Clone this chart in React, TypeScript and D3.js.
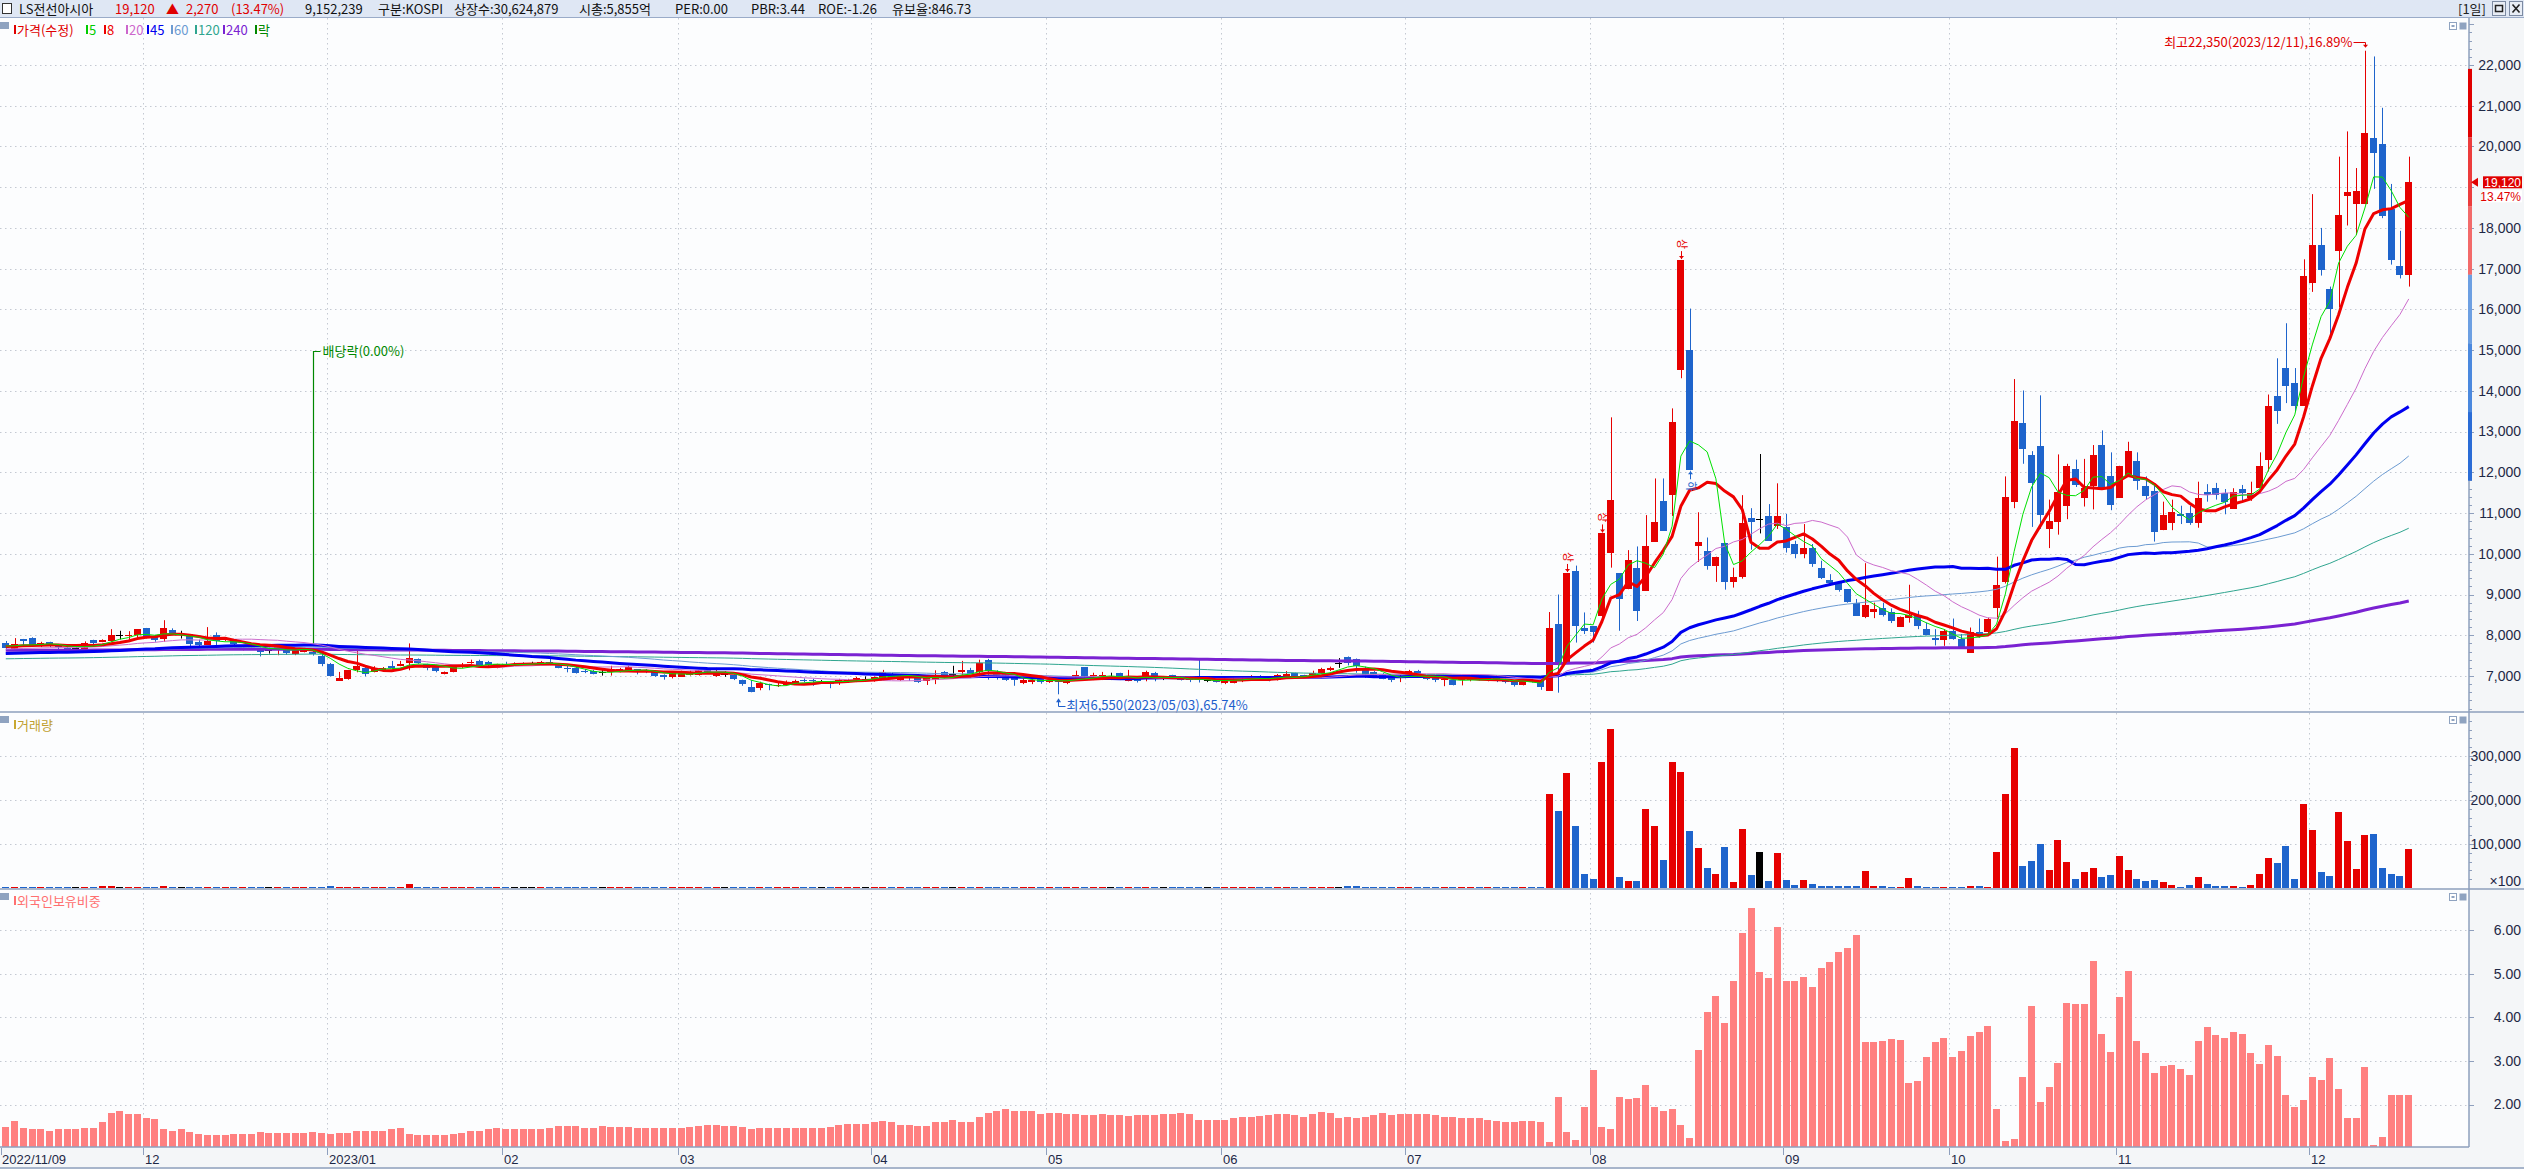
import React, { useRef, useEffect } from 'react';
import * as d3 from 'd3';

// trading calendar (KRX)
const START_DATE = '2022-11-09';
const END_DATE = '2023-12-18';
const HOLIDAYS = [
  '2022-12-30', '2023-01-23', '2023-01-24', '2023-03-01', '2023-05-01', '2023-05-05',
  '2023-05-29', '2023-06-06', '2023-08-15', '2023-09-28', '2023-09-29', '2023-10-02',
  '2023-10-03', '2023-10-09',
];

const OPEN = [
  7810,7640,7910,7930,7740,7840,7760,7690,7680,7660, 7890,7830,7850,8000,7970,8000,8180,7950,7900,8120,
  8030,8030,7840,7770,8000,7880,7900,7670,7760,7670, 7630,7630,7630,7530,7590,7590,7500,7300,6880,6930,
  7140,7190,7110,7120,7250,7240,7330,7420,7290,7240, 7040,7090,7220,7320,7380,7350,7200,7300,7300,7300,
  7320,7290,7350,7270,7200,7200,7130,7120,7090,7090, 7120,7150,7170,7130,7120,7030,6980,6980,7020,7020,
  7150,6990,7060,7020,6890,6730,6700,6810,6750,6780, 6800,6910,6910,6860,6860,6830,6860,6890,6930,6890,
  6960,7060,6910,7020,6990,6880,6890,7110,7060,7090, 7150,7090,7400,7110,7060,6960,6830,6860,6940,6850,
  6940,6820,6900,7210,6900,6920,6980,7070,6870,6980, 6970,7070,6970,7020,6970,6930,6930,6900,6930,6820,
  6840,6870,6900,6980,6980,6900,7000,7070,7020,6980, 7070,7150,7310,7460,7410,7150,7100,7050,6980,6970,
  7020,7130,7020,7000,6890,6900,6900,6890,6950,6890, 6950,6920,6890,6790,6900,6870,6640,8280,7330,9580,
  8190,8230,8480,10030,9520,9130,9660,9090,10300,11290, 11440,14500,15010,10200,10070,9710,10270,9300,9430,10890,
  10860,10930,10690,10650,10240,9990,10140,9660,9350,9300, 9130,8800,8450,8570,8660,8580,8210,8420,8480,8160,
  7930,7890,8110,7920,7570,8070,8070,8660,9300,11280, 13220,12430,12650,10610,10780,11180,12080,11380,11660,12670,
  11900,11380,11920,12290,11660,11540,10580,10760,10970,11000, 10760,11520,11610,11490,11100,11590,11380,11610,12310,13880,
  14560,14190,13630,16660,17570,16490,17440,18780,18580,18580, 20220,20070,18470,17070,16850,
];
const HIGH = [
  7860,7930,7910,7950,7840,7840,7770,7740,7780,7850, 7890,7900,8150,8110,8100,8150,8180,8010,8370,8170,
  8110,8030,7890,8200,8070,7940,7900,7760,7790,7760, 7700,7760,7680,7680,7690,7630,7550,7320,7100,7150,
  7610,7250,7240,7220,7370,7370,7800,7430,7300,7250, 7110,7270,7320,7400,7400,7370,7300,7350,7330,7330,
  7350,7370,7420,7270,7250,7240,7170,7150,7150,7250, 7200,7250,7170,7170,7140,7040,7110,7130,7130,7140,
  7190,7200,7120,7040,6910,6900,6860,6810,6860,6890, 6910,6940,6930,6900,6880,6930,6930,6980,6990,6990,
  7150,7090,7020,7040,7010,6960,7140,7120,7250,7370, 7200,7400,7420,7140,7070,6990,6940,6930,6960,6930,
  6960,6900,7130,7210,7080,7100,7080,7080,7150,7000, 7130,7100,7000,7030,6970,6970,7410,6930,6970,6930,
  6950,6970,7020,7020,7000,7050,7120,7080,7030,7130, 7200,7230,7440,7480,7430,7230,7120,7070,7000,7030,
  7150,7150,7030,7020,6930,6920,6970,6980,7000,6980, 6980,6930,6900,6920,6930,6890,8570,9000,9530,9710,
  8560,8230,10500,13350,9520,10090,10180,10950,11850,11850, 13570,17210,16020,11020,10400,9930,10270,9660,11440,11120,
  12450,11220,11730,10980,10320,10730,10240,9830,9500,9300, 9130,8890,9770,8800,8800,8660,8460,9240,8600,8310,
  8150,8150,8410,8030,8190,8410,8430,9930,11900,14290, 14010,12520,13890,11330,12440,12210,12310,12330,12670,13030,
  12490,12160,12750,12490,11900,11710,11280,11330,11180,11180, 11770,11710,11740,11590,11610,11690,11770,12490,13910,14800,
  15660,14560,17230,18830,18000,16560,19750,20370,19470,22350, 22210,20950,19080,17930,19750,
];
const LOW = [
  7660,7640,7760,7760,7710,7710,7610,7630,7600,7630, 7740,7830,7840,7900,7890,7920,7920,7840,7840,8000,
  7920,7720,7680,7770,7760,7860,7710,7630,7640,7480, 7550,7510,7520,7510,7580,7500,7240,6990,6880,6910,
  7090,6990,7090,7110,7190,7240,7140,7300,7140,7090, 7040,7090,7200,7300,7240,7240,7190,7240,7270,7270,
  7290,7270,7300,7190,7090,7060,7070,7040,7010,7010, 7090,7140,7040,7070,6980,6910,6940,6980,7010,7010,
  7090,6980,6980,6900,6760,6600,6650,6650,6730,6760, 6780,6850,6760,6830,6700,6780,6830,6850,6880,6860,
  6940,6960,6880,6880,6830,6780,6800,6940,6940,7030, 7060,7060,6910,6910,6880,6760,6800,6800,6810,6830,
  6550,6800,6900,6930,6900,6900,6900,6900,6870,6840, 6870,6870,6900,6930,6890,6850,6840,6850,6840,6800,
  6820,6850,6900,6900,6870,6890,6980,6950,6950,6970, 7050,7120,7200,7260,7080,6950,6980,6920,6850,6850,
  7000,7000,6900,6850,6750,6770,6770,6870,6890,6870, 6850,6820,6740,6770,6840,6660,6640,6590,7300,7820,
  8030,7820,8400,9660,8110,9130,8350,9090,10300,10570, 10930,14310,12050,9800,9610,9310,9120,9170,9390,10100,
  10500,10320,10610,10030,9890,9890,9680,9380,9210,9070, 8800,8480,8420,8420,8460,8300,8210,8310,8150,8000,
  7750,7740,7890,7700,7570,7940,8030,8390,9270,11120, 12210,10660,10610,10140,10470,10850,11640,11160,11090,11590,
  11070,11380,11920,11570,11330,10300,10580,10580,10730,10710, 10640,11280,11330,10970,11100,11300,11300,11610,12020,13190,
  13700,13500,13630,16430,16830,15250,16050,18060,17830,18580, 18960,18240,17100,16760,16560,
];
const CLOSE = [
  7680,7780,7850,7760,7800,7760,7710,7660,7680,7800, 7820,7890,8000,8000,8010,8150,7950,7890,8170,8010,
  8030,7790,7770,7850,7870,7920,7790,7680,7680,7600, 7630,7740,7560,7660,7680,7550,7290,6990,6960,7150,
  7250,7060,7200,7200,7200,7300,7450,7320,7190,7120, 7110,7250,7270,7350,7270,7270,7290,7250,7300,7300,
  7320,7350,7320,7190,7170,7070,7100,7040,7090,7150, 7170,7210,7090,7110,7010,6970,7090,7070,7070,7140,
  7110,7090,7060,6930,6800,6600,6830,6780,6780,6830, 6880,6880,6880,6860,6810,6890,6890,6960,6930,6980,
  7110,6980,7010,6980,6860,6940,7020,6940,7060,7150, 7060,7320,7120,6960,6910,6890,6890,6910,6850,6910,
  6850,6890,7020,6970,7020,7020,6980,6920,6970,6870, 7100,6930,6970,6930,6900,6900,6900,6900,6850,6900,
  6930,6950,7000,6900,6890,7030,7050,6970,6970,7080, 7180,7200,7310,7330,7250,7020,7000,6930,6900,7000,
  7120,7020,6920,6900,6930,6790,6930,6950,6920,6970, 6870,6850,6790,6900,6850,6740,8180,7330,9530,8230,
  8110,8080,10500,11320,8890,9840,8600,10190,10780,10570, 13240,17210,12050,10300,9710,9930,9300,9440,10750,10790,
  10860,10320,10930,10130,9990,10140,9750,9400,9280,9120, 8820,8480,8740,8640,8490,8340,8460,8500,8230,8000,
  7890,8110,7920,7700,8070,7980,8390,9230,11400,13270, 12570,11740,10950,10810,11520,12160,11690,11610,12430,11590,
  11210,12160,12520,11790,11430,10540,10950,11020,10920,10760, 11380,11450,11450,11280,11520,11490,11490,12160,13630,13500,
  14130,13630,16810,17570,16970,16020,18320,18880,18910,20320, 19840,18290,17210,16850,19120,
];
const VOLUME = [
  2100,1800,1500,2400,1200,1300,1100,900,1000,1600, 1400,5200,3800,1500,1200,2600,2900,1800,4600,2100,
  1300,2200,1600,2800,1900,900,1500,1000,1200,1700, 900,1400,1100,1300,1000,1600,3100,3600,1800,1900,
  2600,1500,1000,900,1200,1300,9800,2300,1600,1400, 1100,1700,1000,1200,1400,1000,900,800,700,700,
  800,1000,1100,1500,1200,1600,900,1100,800,1500, 1000,1200,1300,900,1600,1400,1300,1100,1000,1200,
  900,1300,800,1400,2100,2800,1700,1100,900,1000, 1100,800,1000,700,1100,1000,900,1200,700,1000,
  1900,1300,1100,1000,1300,1000,1500,1700,1400,1800, 1400,2600,3400,1900,1500,1400,1100,1000,1000,1000,
  1900,1100,1300,2000,1200,1100,900,1100,1500,1000, 1200,1300,800,900,800,2300,800,900,800,900,
  800,900,1000,800,900,1200,1000,900,800,1300, 1500,1100,3200,4100,3800,2200,1400,1300,1200,1100,
  1300,1200,1100,1300,1200,1000,1300,900,900,800, 900,800,1000,900,1200,1500,212900,176000,261000,140000,
  32000,20600,286000,362000,25000,16000,16000,178500,140000,64000, 286000,263000,130000,91600,45800,32000,94000,13700,135000,29800,
  82400,16000,80000,18300,6900,18300,9200,4600,4600,4600, 4600,4600,38900,4600,4600,2300,2300,22900,4600,2300,
  2300,1500,2300,1500,4600,4600,2300,82400,212900,318000, 50400,61800,100700,41200,110000,59500,20600,36600,45800,25000,
  29800,73000,41200,20600,16000,18300,13700,6900,2300,6900, 25000,9200,4600,4600,4600,2300,6900,32000,68700,57200,
  96000,20600,192000,132800,36600,27500,171700,107600,43500,121300, 123600,45800,32000,27500,89300,
];
const FOREIGN = [
  1.49,1.63,1.46,1.43,1.43,1.40,1.43,1.43,1.43,1.46, 1.46,1.60,1.81,1.85,1.79,1.79,1.68,1.66,1.44,1.40,
  1.43,1.37,1.32,1.29,1.30,1.30,1.33,1.33,1.33,1.37, 1.35,1.35,1.35,1.35,1.35,1.37,1.35,1.33,1.35,1.35,
  1.40,1.40,1.40,1.40,1.43,1.46,1.33,1.30,1.30,1.30, 1.30,1.33,1.35,1.38,1.40,1.43,1.45,1.43,1.44,1.44,
  1.44,1.44,1.47,1.50,1.51,1.50,1.47,1.47,1.50,1.49, 1.49,1.49,1.46,1.46,1.46,1.46,1.46,1.46,1.49,1.51,
  1.53,1.53,1.51,1.51,1.49,1.43,1.46,1.46,1.46,1.46, 1.46,1.46,1.46,1.46,1.49,1.53,1.56,1.56,1.56,1.59,
  1.63,1.59,1.53,1.53,1.51,1.51,1.60,1.60,1.65,1.59, 1.60,1.72,1.81,1.85,1.90,1.85,1.85,1.85,1.79,1.81,
  1.81,1.79,1.79,1.76,1.76,1.79,1.76,1.76,1.74,1.76, 1.76,1.76,1.79,1.79,1.81,1.79,1.65,1.65,1.65,1.65,
  1.69,1.72,1.72,1.74,1.76,1.79,1.79,1.76,1.72,1.79, 1.83,1.81,1.69,1.72,1.69,1.72,1.76,1.81,1.76,1.79,
  1.79,1.79,1.79,1.76,1.72,1.72,1.69,1.69,1.69,1.65, 1.63,1.60,1.60,1.63,1.63,1.60,1.14,2.18,1.37,1.19,
  1.95,2.80,1.49,1.44,2.18,2.13,2.15,2.45,1.95,1.85, 1.90,1.53,1.24,3.25,4.13,4.49,3.87,4.84,5.95,6.51,
  5.04,4.91,6.08,4.84,4.84,4.93,4.70,5.14,5.27,5.50, 5.59,5.89,3.44,3.44,3.46,3.51,3.48,2.50,2.54,3.09,
  3.44,3.53,3.09,3.23,3.58,3.67,3.80,1.90,1.17,1.21, 2.63,4.26,2.06,2.41,2.96,4.33,4.31,4.31,5.30,3.62,
  3.21,4.47,5.07,3.46,3.19,2.73,2.89,2.91,2.82,2.68, 3.46,3.78,3.60,3.53,3.67,3.62,3.19,2.93,3.37,3.12,
  2.22,1.95,2.11,2.63,2.57,3.07,2.36,1.69,1.69,2.86, 1.07,1.26,2.22,2.22,2.22,
];

// moving averages: period, level before the first bar, colour, width
const MA_PERIODS = [240, 120, 60, 45, 20, 8, 5];
const MA_SEEDS = [7630, 7420, 7560, 7550, 7660, 7730, 7750];
const MA_COLORS = ['#7a22d2', '#2fa58f', '#6c9bd2', '#0000f0', '#cc6ccc', '#ee0000', '#00e000'];
const MA_WIDTHS = [3, 1, 1, 3, 1, 3, 1];

const FIRST_LABEL = '2022/11/09';
const MONTH_LABELS = ['12', '2023/01', '02', '03', '04', '05', '06', '07', '08', '09', '10', '11', '12'];
const PRICE_TICKS = d3.range(7000, 22001, 1000);
const VOLUME_TICKS = [100000, 200000, 300000];
const FOREIGN_TICKS = [2, 3, 4, 5, 6];

const UPPER_LIMIT_DAYS = ['2023-07-27', '2023-08-02', '2023-08-16'];
const LOWER_LIMIT_DAYS = ['2023-08-17'];
const EX_DIV_DAY = '2022-12-28';
const LOW_DAY = '2023-05-03';
const HIGH_DAY = '2023-12-11';

const HEADER = [
  { text: 'LS전선아시아', color: '#111', x: 19 },
  { text: '19,120', color: '#e00000', x: 115 },
  { text: '▲', color: '#e00000', x: 166 },
  { text: '2,270', color: '#e00000', x: 186 },
  { text: '(13.47%)', color: '#e00000', x: 231 },
  { text: '9,152,239', color: '#111', x: 305 },
  { text: '구분:KOSPI', color: '#111', x: 378 },
  { text: '상장수:30,624,879', color: '#111', x: 454 },
  { text: '시총:5,855억', color: '#111', x: 579 },
  { text: 'PER:0.00', color: '#111', x: 675 },
  { text: 'PBR:3.44', color: '#111', x: 751 },
  { text: 'ROE:-1.26', color: '#111', x: 818 },
  { text: '유보율:846.73', color: '#111', x: 892 },
];
const LEGEND = [
  { text: '가격(수정)', color: '#e00000', x: 14 },
  { text: '5', color: '#00cc00', x: 86 },
  { text: '8', color: '#ee0000', x: 104 },
  { text: '20', color: '#cc66cc', x: 126 },
  { text: '45', color: '#0000ee', x: 147 },
  { text: '60', color: '#6c9bd2', x: 171 },
  { text: '120', color: '#2fa58f', x: 195 },
  { text: '240', color: '#7a22d2', x: 223 },
  { text: '락', color: '#008800', x: 255 },
];

const W = 2524;
const H = 1169;
const PLOT_R = 2469;
const PRICE_TOP = 18;
const PRICE_BOT = 712;
const VOL_BOT = 889;
const FRN_BOT = 1147;
const STEP = 8.77;

const KR = "'Noto Sans CJK KR', 'Noto Sans', sans-serif";
const NUM = "'Liberation Sans Narrow', 'Liberation Sans', Arial, sans-serif";
const UP = '#e60000';
const DOWN = '#1e64cc';
const BORDER = '#8e9fbd';
const GRID = '#c4c9d2';

function tradingDays(): string[] {
  const fmt = d3.utcFormat('%Y-%m-%d');
  const out: string[] = [];
  const end = new Date(END_DATE + 'T00:00:00Z');
  for (let d = new Date(START_DATE + 'T00:00:00Z'); d <= end; d = d3.utcDay.offset(d, 1)) {
    const wd = d.getUTCDay();
    const s = fmt(d);
    if (wd === 0 || wd === 6 || HOLIDAYS.includes(s)) continue;
    out.push(s);
  }
  return out;
}

function movingAverage(values: number[], n: number, seed: number): number[] {
  return values.map((_, i) => {
    const lo = Math.max(0, i - n + 1);
    const missing = n - (i + 1 - lo);
    return (d3.sum(values.slice(lo, i + 1)) + missing * seed) / n;
  });
}

const App: React.FC = () => {
  const svgRef = useRef<SVGSVGElement>(null);

  useEffect(() => {
    if (!svgRef.current) return;
    const svg = d3.select(svgRef.current);
    svg.selectAll('*').remove();

    const dates = tradingDays().slice(0, CLOSE.length);
    const n = dates.length;

    const x = d3.scaleBand<string>()
      .domain(dates)
      .range([1.4, 1.4 + n * STEP])
      .paddingInner(0.2)
      .paddingOuter(0.1);
    const bw = x.bandwidth();
    const cx = (d: string) => (x(d) as number) + bw / 2;

    const yP = d3.scaleLinear().domain([6116, 23154]).range([PRICE_BOT, PRICE_TOP]);
    const yV = d3.scaleLinear().domain([0, 400000]).range([PRICE_BOT + 176, PRICE_BOT]);
    const yF = d3.scaleLinear().domain([1.023, 6.954]).range([FRN_BOT, VOL_BOT]);

    const candles = dates.map((d, i) => ({
      d, o: OPEN[i], h: HIGH[i], l: LOW[i], c: CLOSE[i], v: VOLUME[i], f: FOREIGN[i],
    }));
    const colorOf = (k: { o: number; c: number }) => (k.c > k.o ? UP : k.c < k.o ? DOWN : '#000');
    const last = CLOSE[n - 1];
    const prev = CLOSE[n - 2];

    // backgrounds
    svg.append('rect').attr('width', W).attr('height', H).attr('fill', '#f4f6f8');
    svg.append('rect').attr('x', 0).attr('y', PRICE_TOP).attr('width', PLOT_R).attr('height', FRN_BOT - PRICE_TOP).attr('fill', '#fcfdfe');

    // header
    const head = svg.append('g');
    head.append('rect').attr('width', W).attr('height', 17).attr('fill', '#dfe7f4');
    head.append('line').attr('x1', 0).attr('x2', W).attr('y1', 17.5).attr('y2', 17.5).attr('stroke', '#9aabc8');
    head.append('rect').attr('x', 2.5).attr('y', 3.5).attr('width', 9).attr('height', 10).attr('fill', '#fff').attr('stroke', '#333');
    head.selectAll('text.h').data(HEADER).enter().append('text')
      .attr('x', d => d.x).attr('y', 13.5)
      .attr('fill', d => d.color)
      .style('font-family', KR).style('font-size', '13px')
      .text(d => d.text);
    head.append('text').attr('x', 2458).attr('y', 13.5).style('font-family', KR).style('font-size', '13px').attr('fill', '#222').text('[1일]');
    [2492, 2509].forEach((bx, k) => {
      head.append('rect').attr('x', bx + 0.5).attr('y', 1.5).attr('width', 13).attr('height', 14).attr('fill', '#e8edf5').attr('stroke', '#7d8ba3');
      if (k === 0) {
        head.append('rect').attr('x', bx + 3.5).attr('y', 5.5).attr('width', 7).attr('height', 6).attr('fill', 'none').attr('stroke', '#222').attr('stroke-width', 1.5);
      } else {
        head.append('path').attr('d', `M${bx + 3.5},${4.5}L${bx + 10.5},${12.5}M${bx + 10.5},${4.5}L${bx + 3.5},${12.5}`).attr('stroke', '#222').attr('stroke-width', 1.6);
      }
    });

    // gridlines
    const grid = svg.append('g').attr('stroke', GRID).attr('stroke-dasharray', '1.5,3.5');
    grid.selectAll('line.p').data(PRICE_TICKS).enter().append('line')
      .attr('x1', 0).attr('x2', PLOT_R).attr('y1', d => Math.round(yP(d)) + 0.5).attr('y2', d => Math.round(yP(d)) + 0.5);
    grid.selectAll('line.v').data(VOLUME_TICKS).enter().append('line')
      .attr('x1', 0).attr('x2', PLOT_R).attr('y1', d => Math.round(yV(d)) + 0.5).attr('y2', d => Math.round(yV(d)) + 0.5);
    grid.selectAll('line.f').data(FOREIGN_TICKS).enter().append('line')
      .attr('x1', 0).attr('x2', PLOT_R).attr('y1', d => Math.round(yF(d)) + 0.5).attr('y2', d => Math.round(yF(d)) + 0.5);

    const monthStarts = dates.filter((d, i) => i > 0 && d.slice(0, 7) !== dates[i - 1].slice(0, 7));
    const mx = (d: string) => Math.round(x(d) as number) + 0.5;
    grid.selectAll('line.m').data(monthStarts).enter().append('line')
      .attr('x1', mx).attr('x2', mx).attr('y1', PRICE_TOP).attr('y2', FRN_BOT);

    // candles
    const cg = svg.append('g');
    const wickX = (d: string) => Math.round(cx(d)) + 0.5;
    cg.selectAll('line.w').data(candles).enter().append('line')
      .attr('x1', k => wickX(k.d)).attr('x2', k => wickX(k.d))
      .attr('y1', k => yP(k.h)).attr('y2', k => yP(k.l))
      .attr('stroke', colorOf).attr('stroke-width', 1);
    cg.selectAll('rect.b').data(candles).enter().append('rect')
      .attr('x', k => Math.round(x(k.d) as number))
      .attr('width', Math.round(bw))
      .attr('y', k => yP(Math.max(k.o, k.c)))
      .attr('height', k => Math.max(1, Math.abs(yP(k.o) - yP(k.c))))
      .attr('fill', colorOf)
      .attr('shape-rendering', 'crispEdges');

    // moving averages
    const mg = svg.append('g').attr('fill', 'none');
    MA_PERIODS.forEach((p, m) => {
      const ma = movingAverage(CLOSE, p, MA_SEEDS[m]);
      const line = d3.line<number>().x((_, i) => cx(dates[i])).y(v => yP(v));
      mg.append('path').attr('d', line(ma) || '')
        .attr('stroke', MA_COLORS[m]).attr('stroke-width', MA_WIDTHS[m]).attr('stroke-linejoin', 'round');
    });

    // volume
    svg.append('g').selectAll('rect').data(candles).enter().append('rect')
      .attr('x', k => Math.round(x(k.d) as number))
      .attr('width', Math.round(bw))
      .attr('y', k => Math.min(yV(k.v), yV(0) - 1))
      .attr('height', k => Math.max(1, yV(0) - yV(k.v)))
      .attr('fill', colorOf)
      .attr('shape-rendering', 'crispEdges');

    // foreign ownership
    svg.append('g').selectAll('rect').data(candles).enter().append('rect')
      .attr('x', k => Math.round(x(k.d) as number))
      .attr('width', Math.round(bw))
      .attr('y', k => yF(k.f))
      .attr('height', k => FRN_BOT - yF(k.f))
      .attr('fill', '#ff8080')
      .attr('shape-rendering', 'crispEdges');

    // limit-up / limit-down marks
    const marks = svg.append('g').style('font-family', KR).style('font-size', '11px');
    const arrow = (g: d3.Selection<SVGGElement, unknown, null, undefined>, x0: number, yFrom: number, yTo: number, col: string) => {
      g.append('line').attr('x1', x0).attr('x2', x0).attr('y1', yFrom).attr('y2', yTo).attr('stroke', col).attr('stroke-width', 1);
      const dir = yTo > yFrom ? 1 : -1;
      g.append('path').attr('d', `M${x0 - 2.5},${yTo - dir * 3}L${x0 + 2.5},${yTo - dir * 3}L${x0},${yTo}Z`).attr('fill', col);
    };
    UPPER_LIMIT_DAYS.forEach(d => {
      const k = candles[dates.indexOf(d)];
      const x0 = wickX(d);
      const top = yP(k.h);
      arrow(marks, x0, top - 9, top - 1, UP);
      marks.append('text').attr('transform', `translate(${x0},${top - 16}) rotate(90)`)
        .attr('text-anchor', 'middle').attr('dy', '0.35em').attr('fill', UP).text('상');
    });
    LOWER_LIMIT_DAYS.forEach(d => {
      const k = candles[dates.indexOf(d)];
      const x0 = wickX(d);
      const bot = yP(k.l);
      arrow(marks, x0, bot + 9, bot + 1, DOWN);
      marks.append('text').attr('transform', `translate(${x0},${bot + 16}) rotate(90)`)
        .attr('text-anchor', 'middle').attr('dy', '0.35em').attr('fill', DOWN).text('하');
    });

    // ex-dividend mark
    {
      const i = dates.indexOf(EX_DIV_DAY);
      const x0 = wickX(EX_DIV_DAY);
      const g = svg.append('g');
      g.append('path').attr('d', `M${x0},${yP(HIGH[i]) - 7}V351.5H${x0 + 7}`).attr('fill', 'none').attr('stroke', '#008800').attr('stroke-width', 1.2);
      g.append('text').attr('x', x0 + 9).attr('y', 356).attr('fill', '#008800')
        .style('font-family', KR).style('font-size', '13px').text('배당락(0.00%)');
    }

    // lowest / highest annotations
    {
      const i = dates.indexOf(LOW_DAY);
      const x0 = wickX(LOW_DAY);
      const y0 = yP(LOW[i]) + 5;
      const g = svg.append('g');
      g.append('path').attr('d', `M${x0},${y0 + 1}V706.5H${x0 + 7}`).attr('fill', 'none').attr('stroke', '#1e5fcc');
      g.append('path').attr('d', `M${x0 - 2.5},${y0 + 3}L${x0 + 2.5},${y0 + 3}L${x0},${y0 - 1}Z`).attr('fill', '#1e5fcc');
      g.append('text').attr('x', x0 + 8).attr('y', 710).attr('fill', '#1e5fcc')
        .style('font-family', KR).style('font-size', '13px')
        .text(`최저${d3.format(',')(LOW[i])}(${LOW_DAY.replace(/-/g, '/')}),65.74%`);
    }
    {
      const i = dates.indexOf(HIGH_DAY);
      const x0 = wickX(HIGH_DAY);
      const y0 = yP(HIGH[i]) - 3;
      const g = svg.append('g');
      g.append('path').attr('d', `M${x0 - 12},42.5H${x0}V${y0 - 2}`).attr('fill', 'none').attr('stroke', '#e00000');
      g.append('path').attr('d', `M${x0 - 2.5},${y0 - 3}L${x0 + 2.5},${y0 - 3}L${x0},${y0}Z`).attr('fill', '#e00000');
      g.append('text').attr('x', x0 - 13).attr('y', 47).attr('text-anchor', 'end').attr('fill', '#e00000')
        .style('font-family', KR).style('font-size', '13px')
        .text(`최고${d3.format(',')(HIGH[i])}(${HIGH_DAY.replace(/-/g, '/')}),16.89%`);
    }

    // panel borders & axis line
    const bg = svg.append('g').attr('stroke', BORDER).attr('stroke-width', 1.5);
    [PRICE_BOT, VOL_BOT].forEach(yy => bg.append('line').attr('x1', 0).attr('x2', W).attr('y1', yy).attr('y2', yy));
    bg.append('line').attr('x1', 0).attr('x2', PLOT_R).attr('y1', FRN_BOT).attr('y2', FRN_BOT);
    bg.append('line').attr('x1', 0).attr('x2', W).attr('y1', H - 1).attr('y2', H - 1);
    bg.append('line').attr('x1', PLOT_R).attr('x2', PLOT_R).attr('y1', PRICE_TOP).attr('y2', FRN_BOT);

    // panel corner icons + legends
    [PRICE_TOP, PRICE_BOT, VOL_BOT].forEach(t => {
      svg.append('rect').attr('x', 0).attr('y', t + 4).attr('width', 9).attr('height', 7).attr('fill', '#8fa3c0');
      svg.append('rect').attr('x', 2449.5).attr('y', t + 4.5).attr('width', 7).attr('height', 7).attr('fill', '#fff').attr('stroke', '#8fa3c0');
      svg.append('rect').attr('x', 2451.5).attr('y', t + 7).attr('width', 3).attr('height', 2).attr('fill', '#8fa3c0');
      svg.append('rect').attr('x', 2459.5).attr('y', t + 4.5).attr('width', 7).attr('height', 7).attr('fill', '#8fa3c0');
    });
    const lg = svg.append('g').style('font-family', KR).style('font-size', '13px');
    LEGEND.forEach(it => {
      lg.append('rect').attr('x', it.x).attr('y', 25).attr('width', 2).attr('height', 9).attr('fill', it.color);
      lg.append('text').attr('x', it.x + 3).attr('y', 34.5).attr('fill', it.color).text(it.text);
    });
    lg.append('rect').attr('x', 14).attr('y', PRICE_BOT + 8).attr('width', 2).attr('height', 9).attr('fill', '#c8a830');
    lg.append('text').attr('x', 17).attr('y', PRICE_BOT + 17.5).attr('fill', '#c0a030').text('거래량');
    lg.append('rect').attr('x', 14).attr('y', VOL_BOT + 7).attr('width', 2).attr('height', 9).attr('fill', '#ff7070');
    lg.append('text').attr('x', 17).attr('y', VOL_BOT + 16.5).attr('fill', '#ff7070').text('외국인보유비중');

    // right axes (price labels hidden where the current-price tag sits)
    const tagY = yP(last);
    const ax = svg.append('g').style('font-family', NUM).style('font-size', '14px').attr('fill', '#1e2846');
    const tick = (yy: number, len: number) =>
      ax.append('line').attr('x1', PLOT_R).attr('x2', PLOT_R + len).attr('y1', Math.round(yy) + 0.5).attr('y2', Math.round(yy) + 0.5).attr('stroke', BORDER);
    d3.range(6200, 23001, 200).forEach(v => tick(yP(v), v % 1000 === 0 ? 5 : 3));
    PRICE_TICKS.filter(v => yP(v) < tagY - 15 || yP(v) > tagY + 28)
      .forEach(v => ax.append('text').attr('x', 2521).attr('y', yP(v)).attr('dy', '0.35em').attr('text-anchor', 'end').text(d3.format(',')(v)));
    d3.range(20000, 400000, 20000).forEach(v => tick(yV(v), v % 100000 === 0 ? 5 : 3));
    VOLUME_TICKS.forEach(v => ax.append('text').attr('x', 2521).attr('y', yV(v)).attr('dy', '0.35em').attr('text-anchor', 'end').text(d3.format(',')(v)));
    ax.append('text').attr('x', 2521).attr('y', yV(0) - 7).attr('dy', '0.35em').attr('text-anchor', 'end').text('×100');
    FOREIGN_TICKS.forEach(v => {
      tick(yF(v), 5);
      ax.append('text').attr('x', 2521).attr('y', yF(v)).attr('dy', '0.35em').attr('text-anchor', 'end').text(d3.format('.2f')(v));
    });

    // daily limit band (±30% of previous close) and current price tag
    {
      const shades = ['#e00000', '#ec3c3c', '#f26a6a', '#6c9fe2', '#4a88de', '#2a6cd6'];
      shades.forEach((col, k) => {
        const hi = yP(prev * (1 + (3 - k) * 0.1));
        const lo = yP(prev * (1 + (2 - k) * 0.1));
        svg.append('rect').attr('x', PLOT_R - 1).attr('y', hi).attr('width', 4).attr('height', lo - hi).attr('fill', col);
      });
      svg.append('path').attr('d', `M${PLOT_R + 2},${tagY}L${PLOT_R + 9},${tagY - 4.5}L${PLOT_R + 9},${tagY + 4.5}Z`).attr('fill', '#e00000');
      svg.append('rect').attr('x', 2483).attr('y', tagY - 6).attr('width', 39).attr('height', 12).attr('fill', '#e00000');
      svg.append('text').attr('x', 2521).attr('y', tagY).attr('dy', '0.35em').attr('text-anchor', 'end')
        .style('font-family', NUM).style('font-size', '12px').attr('fill', '#fff').text(d3.format(',')(last));
      svg.append('rect').attr('x', 2483).attr('y', tagY + 8).attr('width', 39).attr('height', 12).attr('fill', '#fff');
      svg.append('text').attr('x', 2521).attr('y', tagY + 14.5).attr('dy', '0.35em').attr('text-anchor', 'end')
        .style('font-family', NUM).style('font-size', '12px').attr('fill', '#e00000')
        .text(d3.format('.2%')((last - prev) / prev));
    }

    // x axis
    const xa = svg.append('g').style('font-family', NUM).style('font-size', '13px').attr('fill', '#1e2846');
    xa.append('line').attr('x1', 1.5).attr('x2', 1.5).attr('y1', FRN_BOT + 1).attr('y2', FRN_BOT + 8).attr('stroke', BORDER);
    xa.append('text').attr('x', 2).attr('y', FRN_BOT + 17).text(FIRST_LABEL);
    monthStarts.forEach((d, k) => {
      xa.append('line').attr('x1', mx(d)).attr('x2', mx(d)).attr('y1', FRN_BOT + 1).attr('y2', FRN_BOT + 8).attr('stroke', BORDER);
      xa.append('text').attr('x', mx(d) + 1.5).attr('y', FRN_BOT + 17).text(MONTH_LABELS[k]);
    });
  }, []);

  return (
    <svg
      ref={svgRef}
      width={W}
      height={H}
      style={{ position: 'absolute', left: 0, top: 0, display: 'block' }}
    />
  );
};

export default App;
